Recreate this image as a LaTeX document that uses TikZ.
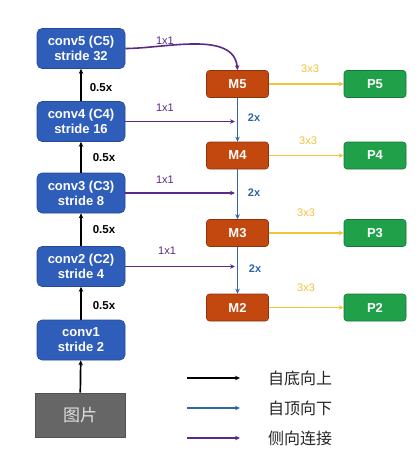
\documentclass[tikz,border=0pt]{standalone}
\usepackage{fontspec}
\setmainfont{Liberation Sans}
\newfontfamily\cjk{Noto Sans CJK SC}
\usetikzlibrary{arrows.meta}
\definecolor{convblue}{HTML}{2F5DBA}
\definecolor{convedge}{HTML}{244A96}
\definecolor{morange}{HTML}{C2480F}
\definecolor{medge}{HTML}{8E340B}
\definecolor{pgreen}{HTML}{1FA049}
\definecolor{pedge}{HTML}{167838}
\definecolor{imggray}{HTML}{666666}
\definecolor{latpurple}{HTML}{5A2A86}
\definecolor{topblue}{HTML}{2E66A6}
\definecolor{yel}{HTML}{F2C23A}
\tikzset{
  convbox/.style={draw=convedge, fill=convblue, rounded corners=5pt, minimum width=88pt, minimum height=40pt, text=white, font=\bfseries\fontsize{13}{15}\selectfont, align=center, inner sep=1pt, line width=0.6pt},
  mbox/.style={draw=medge, fill=morange, rounded corners=3pt, minimum width=62pt, minimum height=27pt, text=white, font=\bfseries\fontsize{13}{14}\selectfont, inner sep=1pt, line width=0.6pt},
  pbox/.style={draw=pedge, fill=pgreen, rounded corners=3pt, minimum width=62pt, minimum height=27pt, text=white, font=\bfseries\fontsize{13}{14}\selectfont, inner sep=1pt, line width=0.6pt},
  imgbox/.style={draw=imggray!80!black, fill=imggray, minimum width=90pt, minimum height=44pt, text=white!88!black, font=\cjk\fontsize{17}{19}\selectfont, line width=0.6pt},
  uparr/.style={draw=black, line width=1.7pt, -{Stealth[length=5pt,width=4.5pt]}},
  downarr/.style={draw=topblue, line width=1.6pt, -{Stealth[length=5pt,width=4.5pt]}},
  latarr/.style={draw=latpurple, line width=1.6pt, -{Stealth[length=5pt,width=4.5pt]}},
  yarr/.style={draw=yel, line width=1.6pt, -{Stealth[length=5pt,width=4.5pt]}},
  halflab/.style={font=\bfseries\fontsize{11.5}{12}\selectfont, text=black},
  onelab/.style={font=\fontsize{11}{12}\selectfont, text=latpurple},
  threelab/.style={font=\fontsize{11}{12}\selectfont, text=yel},
  twolab/.style={font=\bfseries\fontsize{11}{12}\selectfont, text=topblue},
  legtext/.style={font=\cjk\fontsize{16}{18}\selectfont, text=black!85}
}
\begin{document}
\begin{tikzpicture}[x=1pt,y=-1pt]
\useasboundingbox[fill=white] (0,0) rectangle (417,466);
% backbone
\node[convbox] (c5) at (81,48.5) {conv5 (C5)\\stride 32};
\node[convbox] (c4) at (81,121.5) {conv4 (C4)\\stride 16};
\node[convbox] (c3) at (81,193) {conv3 (C3)\\stride 8};
\node[convbox] (c2) at (81,266.5) {conv2 (C2)\\stride 4};
\node[convbox] (c1) at (81,340) {conv1\\stride 2};
\node[imgbox] (img) at (80,415) {图片};
% M column
\node[mbox] (m5) at (237.5,84) {M5};
\node[mbox] (m4) at (237.5,155.5) {M4};
\node[mbox] (m3) at (237.5,233) {M3};
\node[mbox] (m2) at (237.5,307.5) {M2};
% P column
\node[pbox] (p5) at (375,84) {P5};
\node[pbox] (p4) at (375,155.5) {P4};
\node[pbox] (p3) at (375,233) {P3};
\node[pbox] (p2) at (375,307.5) {P2};
% bottom-up
\draw[uparr] (img) -- (c1);
\draw[uparr] (c1) -- (c2);
\draw[uparr] (c2) -- (c3);
\draw[uparr] (c3) -- (c4);
\draw[uparr] (c4) -- (c5);
\node[halflab] (h1) at (104,306) {0.5x};
\node[halflab] (h2) at (104,230) {0.5x};
\node[halflab] (h3) at (104,158) {0.5x};
\node[halflab] (h4) at (101,88) {0.5x};
% top-down
\draw[downarr] (m5) -- (m4);
\draw[downarr] (m4) -- (m3);
\draw[downarr] (m3) -- (m2);
\node[twolab] (t1) at (254,118) {2x};
\node[twolab] (t2) at (254,193) {2x};
\node[twolab] (t3) at (255,269) {2x};
% lateral
\coordinate (j4) at (235,121.5);
\coordinate (j3) at (235,193);
\coordinate (j2) at (235,266.5);
\draw[latarr] (c5.east) to[out=0,in=95,looseness=0.9] (m5.north);
\draw[latarr] (c4.east) -- (j4);
\draw[latarr] (c3.east) -- (j3);
\draw[latarr] (c2.east) -- (j2);
\node[onelab] (o5) at (165,41) {1x1};
\node[onelab] (o4) at (165,108) {1x1};
\node[onelab] (o3) at (165,180) {1x1};
\node[onelab] (o2) at (167,251) {1x1};
% 3x3
\draw[yarr] (m5) -- (p5);
\draw[yarr] (m4) -- (p4);
\draw[yarr] (m3) -- (p3);
\draw[yarr] (m2) -- (p2);
\node[threelab] (y5) at (310,69) {3x3};
\node[threelab] (y4) at (308,141) {3x3};
\node[threelab] (y3) at (306,213) {3x3};
\node[threelab] (y2) at (306,288) {3x3};
% legend
\coordinate (la1) at (187,378); \coordinate (lb1) at (240,378);
\coordinate (la2) at (187,408); \coordinate (lb2) at (240,408);
\coordinate (la3) at (187,438); \coordinate (lb3) at (240,438);
\draw[uparr, line width=1.4pt] (la1) -- (lb1);
\draw[downarr, line width=1.4pt] (la2) -- (lb2);
\draw[latarr, line width=1.4pt] (la3) -- (lb3);
\node[legtext] (g1) at (300,378) {自底向上};
\node[legtext] (g2) at (300,408) {自顶向下};
\node[legtext] (g3) at (300,438) {侧向连接};
\end{tikzpicture}
\end{document}
